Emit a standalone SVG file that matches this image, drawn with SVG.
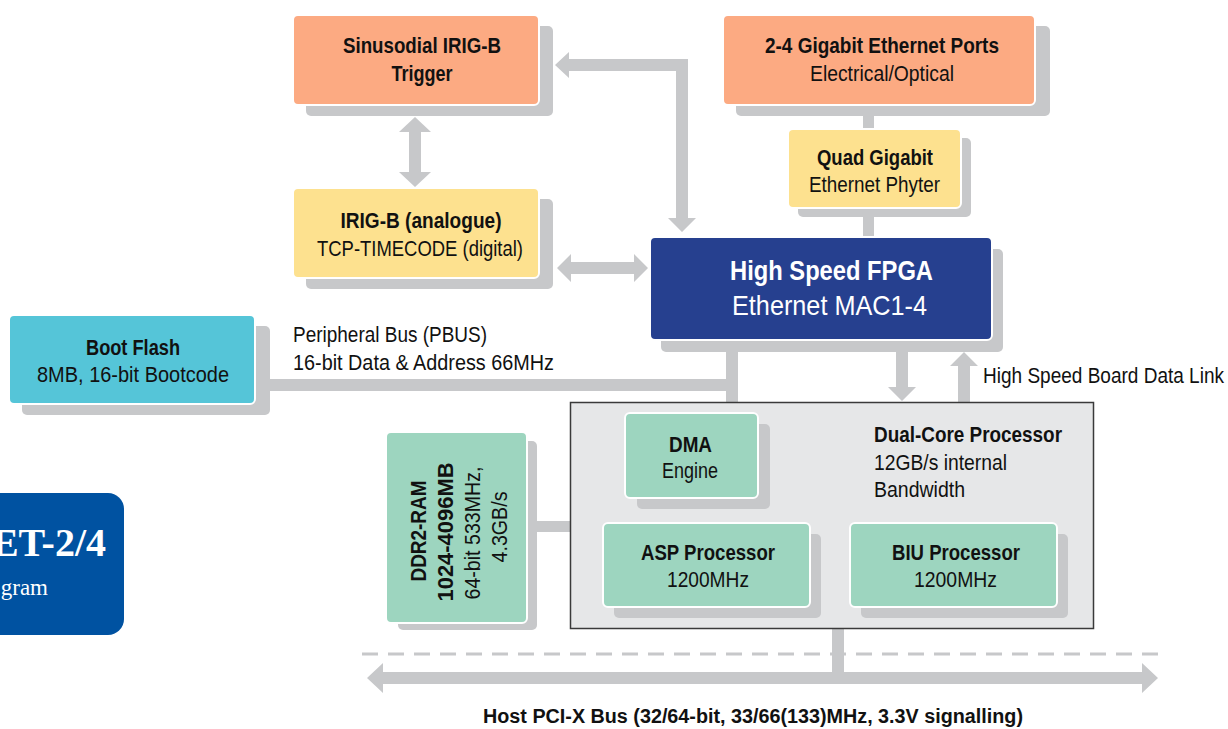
<svg xmlns="http://www.w3.org/2000/svg" width="1228" height="729" viewBox="0 0 1228 729">
<style>
.sh{fill:#c7c8ca}
.nd{stroke:#fff;stroke-width:2}
.or{fill:#fcaa82}
.ye{fill:#fde18f}
.gr{fill:#9dd5bf}
.cy{fill:#55c5d8}
.bl{fill:#26408f}
.cn{fill:#c7c8ca}
text{font-family:"Liberation Sans",Arial,sans-serif;fill:#111}
.b{font-weight:bold}
.t{font-size:22px}
.m{text-anchor:middle}
.w{fill:#fff}
</style>
<rect x="0" y="0" width="1228" height="729" fill="#fff"/>

<g id="badge">
<rect x="-20" y="493" width="144" height="142" rx="16" fill="#0052a1"/>
<text x="106" y="556" text-anchor="end" style="font-family:'Liberation Serif','Times New Roman',serif;font-weight:bold;font-size:40px;fill:#fff">ET-2/4</text>
<text x="48" y="595" text-anchor="end" style="font-family:'Liberation Serif','Times New Roman',serif;font-size:23px;fill:#fff">gram</text>
</g>

<g id="connectors">
<polygon class="cn" points="415,117 431,132 421,132 421,172 431,172 415,187 399,172 409,172 409,132 399,132"/>
<polygon class="cn" points="555,65 569,52 569,59 688,59 688,218 696,218 682,232 668,218 676,218 676,71 569,71 569,78"/>
<polygon class="cn" points="557,268 571,254 571,262 634,262 634,254 648,268 634,282 634,274 571,274 571,282"/>
<rect class="cn" x="863" y="114" width="11" height="16"/>
<rect class="cn" x="863" y="215" width="11" height="23"/>
<rect class="cn" x="268" y="379" width="470" height="12"/>
<rect class="cn" x="726" y="350" width="12" height="53"/>
<polygon class="cn" points="896,350 908,350 908,387 916,387 902,401 888,387 896,387"/>
<polygon class="cn" points="964,352 978,366 970,366 970,403 958,403 958,366 950,366"/>
<rect class="cn" x="535" y="521" width="36" height="11"/>
<rect class="cn" x="832" y="627" width="12" height="47"/>
<line x1="362" y1="654" x2="1160" y2="654" stroke="#c7c8ca" stroke-width="3" stroke-dasharray="16 10"/>
<polygon class="cn" points="367,678 383,663 383,672 1142,672 1142,663 1158,678 1142,693 1142,684 383,684 383,693"/>
<text class="b m" x="753" y="723" font-size="20" textLength="540" lengthAdjust="spacingAndGlyphs">Host PCI-X Bus (32/64-bit, 33/66(133)MHz, 3.3V signalling)</text>
<text class="t" x="293" y="342" textLength="194" lengthAdjust="spacingAndGlyphs">Peripheral Bus (PBUS)</text>
<text class="t" x="293" y="370" textLength="261" lengthAdjust="spacingAndGlyphs">16-bit Data &amp; Address 66MHz</text>
<text class="t" x="983" y="383" textLength="241" lengthAdjust="spacingAndGlyphs">High Speed Board Data Link</text>
</g>

<g id="sinusodial">
<rect class="sh" x="306" y="26" width="247" height="90" rx="5"/>
<rect class="nd or" x="293" y="15" width="246" height="90" rx="5"/>
<text class="t b m" x="422" y="53" textLength="158" lengthAdjust="spacingAndGlyphs">Sinusodial IRIG-B</text>
<text class="t b m" x="422" y="81" textLength="61" lengthAdjust="spacingAndGlyphs">Trigger</text>
</g>

<g id="irigb">
<rect class="sh" x="306" y="199" width="247" height="90" rx="5"/>
<rect class="nd ye" x="293" y="188" width="246" height="90" rx="5"/>
<text class="t b m" x="421" y="228" textLength="161" lengthAdjust="spacingAndGlyphs">IRIG-B (analogue)</text>
<text class="t m" x="420" y="256" textLength="206" lengthAdjust="spacingAndGlyphs">TCP-TIMECODE (digital)</text>
</g>

<g id="ethports">
<rect class="sh" x="736" y="26" width="314" height="90" rx="5"/>
<rect class="nd or" x="723" y="15" width="312" height="90" rx="5"/>
<text class="t b m" x="882" y="53" textLength="234" lengthAdjust="spacingAndGlyphs">2-4 Gigabit Ethernet Ports</text>
<text class="t m" x="882" y="81" textLength="144" lengthAdjust="spacingAndGlyphs">Electrical/Optical</text>
</g>

<g id="phyter">
<rect class="sh" x="798" y="138" width="173" height="79" rx="5"/>
<rect class="nd ye" x="788" y="129" width="173" height="79" rx="5"/>
<text class="t b m" x="875" y="165" textLength="116" lengthAdjust="spacingAndGlyphs">Quad Gigabit</text>
<text class="t m" x="874.5" y="192" textLength="131" lengthAdjust="spacingAndGlyphs">Ethernet Phyter</text>
</g>

<g id="fpga">
<rect class="sh" x="661" y="249" width="342" height="103" rx="5"/>
<rect class="nd bl" x="650" y="237" width="342" height="103" rx="5"/>
<text class="b m w" x="831.5" y="280" font-size="28" textLength="203" lengthAdjust="spacingAndGlyphs">High Speed FPGA</text>
<text class="m w" x="829.5" y="315" font-size="28" textLength="195" lengthAdjust="spacingAndGlyphs">Ethernet MAC1-4</text>
</g>

<g id="bootflash">
<rect class="sh" x="22" y="326" width="248" height="89" rx="5"/>
<rect class="nd cy" x="9" y="315" width="246" height="89" rx="5"/>
<text class="t b m" x="133" y="355" textLength="94" lengthAdjust="spacingAndGlyphs">Boot Flash</text>
<text class="t m" x="133" y="382" textLength="192" lengthAdjust="spacingAndGlyphs">8MB, 16-bit Bootcode</text>
</g>

<g id="ddr2">
<rect class="sh" x="398" y="441" width="139" height="189" rx="5"/>
<rect class="nd gr" x="386" y="432" width="141" height="191" rx="5"/>
<g transform="rotate(-90)">
<text class="t b m" x="-531" y="426" textLength="101" lengthAdjust="spacingAndGlyphs">DDR2-RAM</text>
<text class="t b m" x="-532" y="453" textLength="139" lengthAdjust="spacingAndGlyphs">1024-4096MB</text>
<text class="t m" x="-533" y="480" textLength="133" lengthAdjust="spacingAndGlyphs">64-bit 533MHz,</text>
<text class="t m" x="-527" y="507" textLength="71" lengthAdjust="spacingAndGlyphs">4.3GB/s</text>
</g>
</g>

<g id="dualcore">
<rect x="570.5" y="402.5" width="523" height="226" fill="#e6e7e8" stroke="#3a3a3a" stroke-width="1.5"/>
<text class="t b" x="874" y="442" textLength="188" lengthAdjust="spacingAndGlyphs">Dual-Core Processor</text>
<text class="t" x="874" y="470" textLength="133" lengthAdjust="spacingAndGlyphs">12GB/s internal</text>
<text class="t" x="874" y="497" textLength="91" lengthAdjust="spacingAndGlyphs">Bandwidth</text>
</g>

<g id="dma">
<rect class="sh" x="637" y="424" width="133" height="85" rx="5"/>
<rect class="nd gr" x="625" y="413" width="133" height="85" rx="5"/>
<text class="t b m" x="690.5" y="452" textLength="43" lengthAdjust="spacingAndGlyphs">DMA</text>
<text class="t m" x="690" y="478" textLength="56" lengthAdjust="spacingAndGlyphs">Engine</text>
</g>

<g id="asp">
<rect class="sh" x="614" y="534" width="207" height="84" rx="5"/>
<rect class="nd gr" x="603" y="523" width="207" height="84" rx="5"/>
<text class="t b m" x="708" y="560" textLength="134" lengthAdjust="spacingAndGlyphs">ASP Processor</text>
<text class="t m" x="708" y="587" textLength="82" lengthAdjust="spacingAndGlyphs">1200MHz</text>
</g>

<g id="biu">
<rect class="sh" x="861" y="534" width="207" height="84" rx="5"/>
<rect class="nd gr" x="850" y="523" width="207" height="84" rx="5"/>
<text class="t b m" x="956" y="560" textLength="128" lengthAdjust="spacingAndGlyphs">BIU Processor</text>
<text class="t m" x="955.5" y="587" textLength="83" lengthAdjust="spacingAndGlyphs">1200MHz</text>
</g>
</svg>
